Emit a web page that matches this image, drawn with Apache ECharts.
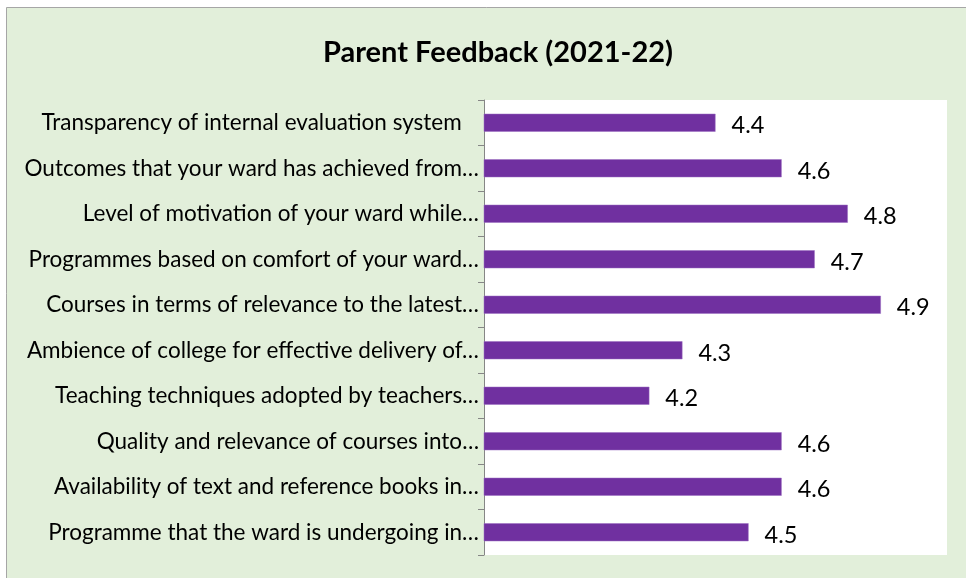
<!DOCTYPE html>
<html>
<head>
<meta charset="utf-8">
<script src="https://cdn.jsdelivr.net/npm/echarts@6/dist/echarts.min.js"></script>
<style>
html,body{margin:0;padding:0;background:#ffffff;}
#chart{width:966px;height:578px;}
</style>
</head>
<body>
<div id="chart"></div>
<script>
const titleText = "Parent Feedback (2021-22)";
const categories = [
  "Transparency of internal evaluation system   ",
  "Outcomes that your ward has achieved from…",
  "Level of motivation of your ward while…",
  "Programmes based on comfort of your ward…",
  "Courses in terms of relevance to the latest…",
  "Ambience of college for effective delivery of…",
  "Teaching techniques adopted by teachers…",
  "Quality and relevance of courses into…",
  "Availability of text and reference books in…",
  "Programme that the ward is undergoing in…"
];
const scores = [4.4, 4.6, 4.8, 4.7, 4.9, 4.3, 4.2, 4.6, 4.6, 4.5];
const axisMin = 3.7;
const axisMax = 5.1;

const chart = echarts.init(document.getElementById('chart'), null, {renderer: 'canvas'});
const font = 'Lato, "Open Sans", sans-serif';
chart.setOption({
  backgroundColor: '#ffffff',
  animation: false,
  graphic: [{
    type: 'rect',
    z: -10,
    shape: {x: 6.5, y: 7.5, width: 1000, height: 600},
    style: {fill: '#e2efda', stroke: '#a6a6a6', lineWidth: 1}
  }, {
    type: 'rect',
    z: -9,
    shape: {x: 484, y: 100, width: 463, height: 455},
    style: {fill: '#ffffff'}
  }],
  title: {
    text: titleText,
    left: 493,
    top: 33,
    textAlign: 'center',
    textStyle: {fontFamily: font, fontWeight: 'bold', fontSize: 29, color: '#000000'}
  },
  grid: {left: 484, top: 100, right: 19, bottom: 23, containLabel: false},
  xAxis: {
    type: 'value',
    min: axisMin,
    max: axisMax,
    show: false
  },
  yAxis: {
    type: 'category',
    data: categories,
    inverse: true,
    axisLine: {show: true, lineStyle: {color: '#868686', width: 1}},
    axisTick: {show: true, length: 6, lineStyle: {color: '#868686'}},
    axisLabel: {fontFamily: font, fontSize: 22.5, color: '#000000', margin: 5}
  },
  series: [{
    type: 'bar',
    data: scores,
    barWidth: 18,
    itemStyle: {color: '#7030a0', borderColor: '#9a6cc0', borderWidth: 0.5},
    label: {
      show: true,
      position: 'right',
      distance: 16,
      offset: [0, 3],
      fontFamily: font,
      fontSize: 23.5,
      color: '#000000'
    }
  }]
});
</script>
</body>
</html>
